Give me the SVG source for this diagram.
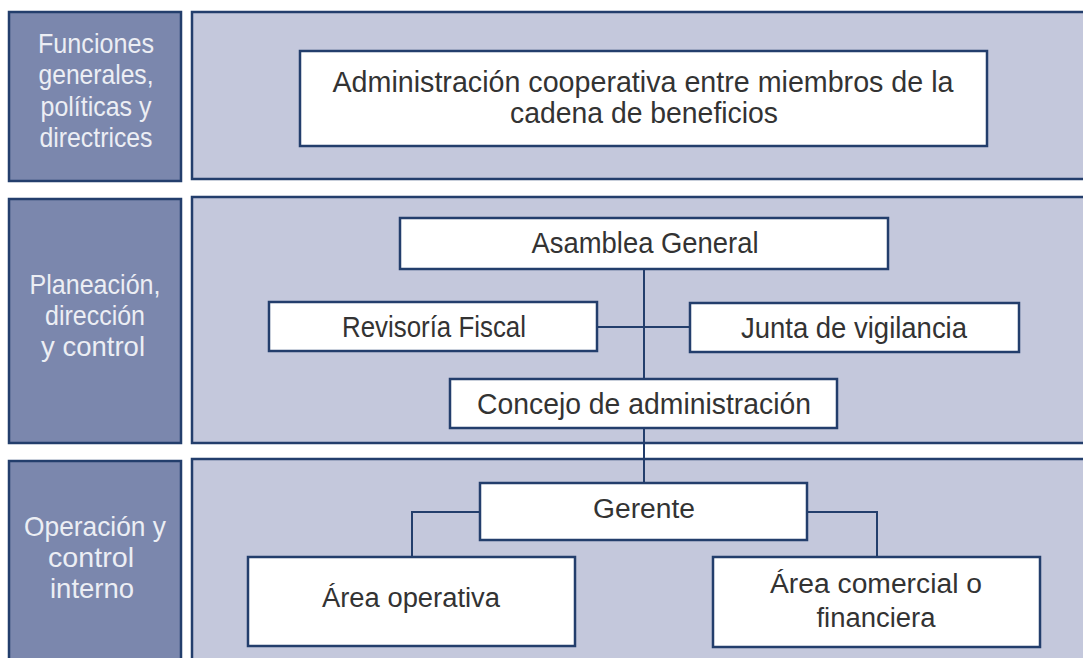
<svg xmlns="http://www.w3.org/2000/svg" width="1083" height="658" viewBox="0 0 1083 658">
<style>
.lab{fill:#7b87ad;stroke:#233e6c;stroke-width:2.5}
.pan{fill:#c4c8dc;stroke:#233e6c;stroke-width:2.5}
.box{fill:#ffffff;stroke:#233e6c;stroke-width:2.5}
.lt{font-family:"Liberation Sans",Arial,sans-serif;font-size:28px;fill:#eceef4;text-anchor:middle}
.bt{font-family:"Liberation Sans",Arial,sans-serif;font-size:30px;fill:#333333;text-anchor:middle}
.bw{font-family:"Liberation Sans",Arial,sans-serif;font-size:27px;fill:#333333;text-anchor:middle}
.con{fill:none;stroke:#233e6c;stroke-width:2}
</style>
<rect width="1083" height="658" fill="#ffffff"/>
<g id="row1">
<rect class="lab" x="9" y="12" width="172" height="169"/>
<rect class="pan" x="192" y="12" width="900" height="167"/>
<text class="lt" x="96" y="53" textLength="116" lengthAdjust="spacingAndGlyphs">Funciones</text>
<text class="lt" x="96" y="84" textLength="115" lengthAdjust="spacingAndGlyphs">generales,</text>
<text class="lt" x="96" y="116" textLength="111" lengthAdjust="spacingAndGlyphs">políticas y</text>
<text class="lt" x="96" y="147" textLength="113" lengthAdjust="spacingAndGlyphs">directrices</text>
</g>
<g id="row2">
<rect class="lab" x="9" y="199" width="172" height="244"/>
<rect class="pan" x="192" y="197" width="900" height="246"/>
<text class="lt" x="95" y="294" textLength="131" lengthAdjust="spacingAndGlyphs">Planeación,</text>
<text class="lt" x="95" y="325" textLength="100" lengthAdjust="spacingAndGlyphs">dirección</text>
<text class="lt" x="93" y="356" textLength="104" lengthAdjust="spacingAndGlyphs">y control</text>
</g>
<g id="row3">
<rect class="lab" x="9" y="461" width="172" height="210"/>
<rect class="pan" x="192" y="459" width="900" height="210"/>
<text class="lt" x="95" y="536" textLength="142" lengthAdjust="spacingAndGlyphs">Operación y</text>
<text class="lt" x="91" y="567" textLength="86" lengthAdjust="spacingAndGlyphs">control</text>
<text class="lt" x="92" y="598" textLength="84" lengthAdjust="spacingAndGlyphs">interno</text>
</g>
<g id="connectors">
<path class="con" d="M644 269V379"/>
<path class="con" d="M597 327H690"/>
<path class="con" d="M644 428V483"/>
<path class="con" d="M480 512H412V557"/>
<path class="con" d="M807 512H877V557"/>
</g>
<g id="admin">
<rect class="box" x="300" y="51" width="687" height="95"/>
<text class="bt" x="643" y="92" textLength="621" lengthAdjust="spacingAndGlyphs">Administración cooperativa entre miembros de la</text>
<text class="bt" x="644" y="123" textLength="268" lengthAdjust="spacingAndGlyphs">cadena de beneficios</text>
</g>
<g id="asamblea">
<rect class="box" x="400" y="218" width="488" height="51"/>
<text class="bt" x="645" y="253" textLength="227" lengthAdjust="spacingAndGlyphs">Asamblea General</text>
</g>
<g id="revisoria">
<rect class="box" x="269" y="302" width="328" height="49"/>
<text class="bt" x="434" y="337" textLength="184" lengthAdjust="spacingAndGlyphs">Revisoría Fiscal</text>
</g>
<g id="junta">
<rect class="box" x="690" y="303" width="329" height="49"/>
<text class="bt" x="854" y="338" textLength="226" lengthAdjust="spacingAndGlyphs">Junta de vigilancia</text>
</g>
<g id="concejo">
<rect class="box" x="450" y="379" width="387" height="49"/>
<text class="bt" x="644" y="414" textLength="334" lengthAdjust="spacingAndGlyphs">Concejo de administración</text>
</g>
<g id="gerente">
<rect class="box" x="480" y="483" width="327" height="57"/>
<text class="bw" x="644" y="518" textLength="102" lengthAdjust="spacingAndGlyphs">Gerente</text>
</g>
<g id="operativa">
<rect class="box" x="248" y="557" width="327" height="89"/>
<text class="bw" x="411" y="607" textLength="178" lengthAdjust="spacingAndGlyphs">Área operativa</text>
</g>
<g id="comercial">
<rect class="box" x="713" y="557" width="327" height="90"/>
<text class="bw" x="876" y="593" textLength="212" lengthAdjust="spacingAndGlyphs">Área comercial o</text>
<text class="bw" x="876" y="627" textLength="119" lengthAdjust="spacingAndGlyphs">financiera</text>
</g>
</svg>
